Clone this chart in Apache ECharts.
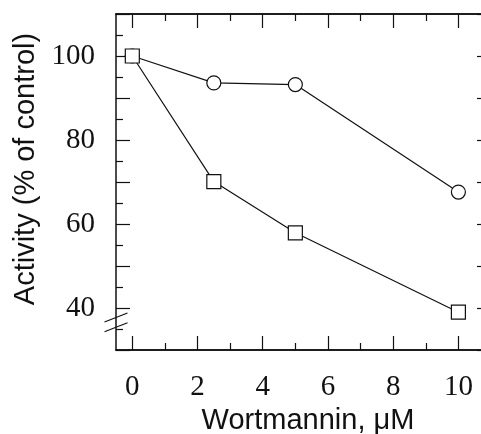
<!DOCTYPE html>
<html>
<head>
<meta charset="utf-8">
<script src="https://cdn.jsdelivr.net/npm/echarts@6/dist/echarts.min.js"></script>
<style>
html,body{margin:0;padding:0;background:#fff;}
#chart{width:481px;height:434px;}
</style>
</head>
<body>
<div id="chart"></div>
<script>
// Data
var concentrations = [0, 2.5, 5, 10];
var circleValues = [100, 93.6, 93.2, 67.6];
var squareValues = [100, 70.1, 57.9, 39.0];
var xMajorTicks = [0, 2, 4, 6, 8, 10];
var xMinorTicks = [1, 3, 5, 7, 9];
var yLabelValues = [40, 60, 80, 100];
var xTitle = 'Wortmannin, μM';
var yTitle = 'Activity (% of control)';

var ink = '#111';
var chart = echarts.init(document.getElementById('chart'), null, {renderer: 'canvas'});

function pairs(xs, ys) { return xs.map(function (x, i) { return [x, ys[i]]; }); }

function xAx(pos, ticks, len, labels) {
  return {
    type: 'value', position: pos, min: -0.5, max: 11, gridIndex: 0,
    axisLine: {show: true, onZero: false, lineStyle: {color: ink, width: 1.5}},
    axisTick: {show: true, inside: true, length: len, customValues: ticks, lineStyle: {color: ink, width: 1.2}},
    axisLabel: labels ? {show: true, customValues: xMajorTicks, margin: 23,
      fontFamily: 'Liberation Serif', fontSize: 29, color: ink} : {show: false},
    splitLine: {show: false}
  };
}
function yAx(pos, labels) {
  return {
    type: 'value', position: pos, min: 30, max: 110, interval: 10,
    axisLine: {show: true, onZero: false, lineStyle: {color: ink, width: 1.5}},
    axisTick: {show: true, inside: true, length: 14, lineStyle: {color: ink, width: 1.2}},
    minorTick: {show: true, splitNumber: 2, length: 7, lineStyle: {color: ink, width: 1.2}},
    axisLabel: labels ? {show: true, margin: 21, fontFamily: 'Liberation Serif', fontSize: 29, color: ink,
      formatter: function (v) { return yLabelValues.indexOf(v) >= 0 ? String(v) : ''; }} : {show: false},
    splitLine: {show: false}
  };
}

chart.setOption({
  animation: false,
  backgroundColor: '#fff',
  grid: {left: 116, top: 14, width: 375, height: 336, containLabel: false, outerBoundsMode: 'none'},
  xAxis: [
    xAx('bottom', xMajorTicks, 14, true),
    xAx('bottom', xMinorTicks, 7, false),
    xAx('top', xMajorTicks, 14, false),
    xAx('top', xMinorTicks, 7, false)
  ],
  yAxis: [yAx('left', true), yAx('right', false)],
  series: [
    {type: 'line', data: pairs(concentrations, circleValues), symbol: 'circle', symbolSize: 14,
      lineStyle: {color: ink, width: 1.2}, itemStyle: {color: '#fff', borderColor: ink, borderWidth: 1.2}, z: 3},
    {type: 'line', data: pairs(concentrations, squareValues), symbol: 'rect', symbolSize: 14,
      lineStyle: {color: ink, width: 1.2}, itemStyle: {color: '#fff', borderColor: ink, borderWidth: 1.2}, z: 3}
  ]
});

var p40 = chart.convertToPixel({xAxisIndex: 0, yAxisIndex: 0}, [-0.5, 40]);
var pTop = chart.convertToPixel({xAxisIndex: 0, yAxisIndex: 0}, [11, 110]);
var pBot = chart.convertToPixel({xAxisIndex: 0, yAxisIndex: 0}, [-0.5, 30]);
var ax = p40[0];
var b1 = p40[1] + 9.5, b2 = p40[1] + 19.2;
chart.setOption({
  graphic: [
    {type: 'line', shape: {x1: ax - 11.5, y1: b1 + 4.5, x2: ax + 11.5, y2: b1 - 4.5}, style: {stroke: ink, lineWidth: 1.2}, z: 10},
    {type: 'line', shape: {x1: ax - 11.5, y1: b2 + 4.5, x2: ax + 11.5, y2: b2 - 4.5}, style: {stroke: ink, lineWidth: 1.2}, z: 10},
    {type: 'text', x: (ax + pTop[0]) / 2 + 4.5, y: pBot[1] + 71, style: {text: xTitle, fontFamily: 'Liberation Sans', fontSize: 29,
      fill: ink, align: 'center', verticalAlign: 'middle'}},
    {type: 'text', x: 26, y: (pTop[1] + pBot[1]) / 2 - 13, rotation: Math.PI / 2,
      style: {text: yTitle, fontFamily: 'Liberation Sans', fontSize: 29, fill: ink, align: 'center', verticalAlign: 'middle'}}
  ]
});
</script>
</body>
</html>
